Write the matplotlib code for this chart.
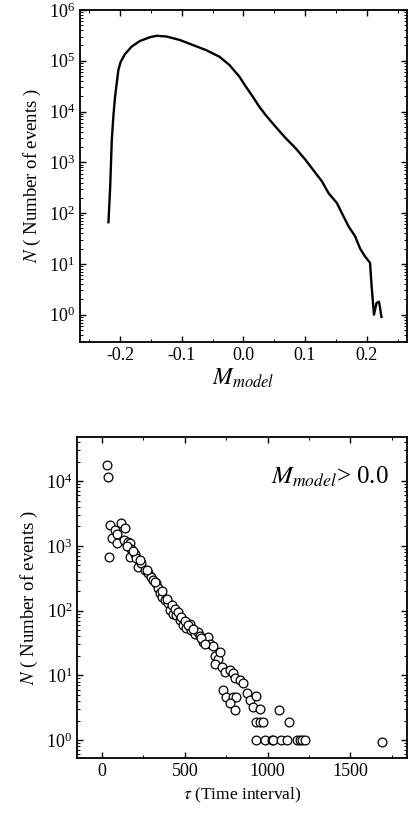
import matplotlib.pyplot as plt
import numpy as np

plt.rcParams['font.family'] = ['Liberation Serif', 'DejaVu Serif']
plt.rcParams['mathtext.fontset'] = 'stix'

# top panel: distribution of M_model
m_model = [-0.2188, -0.216, -0.2134, -0.2107, -0.208, -0.2054, -0.2027, -0.199,
           -0.192, -0.1812, -0.1678, -0.1517, -0.1409, -0.1248, -0.1034, -0.0819,
           -0.0604, -0.0389, -0.0228, -0.0067, 0.004, 0.0148, 0.0255, 0.0362,
           0.0523, 0.0685, 0.0846, 0.1007, 0.1168, 0.1275, 0.1383, 0.1517,
           0.1597, 0.1705, 0.1812, 0.1893, 0.1973, 0.2054, 0.208, 0.2118,
           0.216, 0.22, 0.224]
n_model = [66, 330, 2750, 8500, 20000, 36000, 66000, 95000,
           135000, 190000, 245000, 290000, 310000, 300000, 257000, 204000,
           162000, 120000, 83000, 49000, 31000, 20000, 12600, 8500,
           5000, 3000, 1900, 1120, 620, 420, 245, 158,
           100, 55, 35, 20, 14, 10.5, 3.6, 1.0,
           1.7, 1.8, 0.9]

# bottom panel: waiting times for M_model > 0.0
tau = [30, 36, 42, 50, 60, 77, 91, 91, 117, 137, 131, 157, 167, 177, 167, 198,
       208, 218, 238, 258, 278, 298, 308, 329, 339, 349, 365, 379, 399, 409,
       429, 450, 470, 490, 510, 530, 540, 560, 581, 591, 611, 641, 651, 671,
       681, 702, 712, 681, 722, 742, 772, 792, 802, 833, 853, 732, 752, 792,
       812, 772, 873, 893, 930, 913, 954, 933, 954, 974, 802,
       933, 984, 1024, 1034, 1084, 1115, 1175, 1196, 1206, 1226,
       1070, 1131, 1689,
       150, 185, 230, 270, 320, 360, 390, 420, 440, 460, 480, 500, 520, 550, 600, 620]
n_tau = [18000, 11700, 680, 2100, 1300, 1750, 1500, 1100, 2230, 1900, 1230, 1150, 1090, 910, 680, 760,
         640, 480, 550, 425, 375, 335, 295, 263, 220, 190, 163, 145, 130, 102,
         90, 85, 71, 60, 53, 63, 50, 43, 47, 40, 33, 39, 31, 28,
         20, 18, 23, 15, 13.5, 11.4, 12, 10.7, 9, 8.4, 7.5, 5.9, 4.7, 4.7,
         4.7, 3.7, 5.3, 4.2, 4.8, 3.3, 3.0, 1.9, 1.9, 1.9, 2.9,
         1, 1, 1, 1, 1, 1, 1, 1, 1, 1,
         2.9, 1.9, 0.93,
         1000, 820, 600, 420, 280, 200, 150, 120, 105, 95, 80, 70, 60, 52, 38, 30]

fig = plt.figure(figsize=(4.08, 8.23), dpi=100)

ax1 = fig.add_axes([0.196, 0.5845, 0.801, 0.4034])
ax1.plot(m_model, n_model, color='black', lw=1.7)
ax1.set_yscale('log')
ax1.set_xlim(-0.265, 0.265)
ax1.set_ylim(0.29, 1e6)
ax1.set_xticks([-0.2, -0.1, 0.0, 0.1, 0.2])
ax1.set_xticklabels(['-0.2', '-0.1', '0.0', '0.1', '0.2'])
ax1.set_xlabel(r'$M_{model}$', fontsize=17, labelpad=2)
ax1.set_ylabel(r'$N$ ( Number of events )', fontsize=13.5)

ax2 = fig.add_axes([0.189, 0.079, 0.809, 0.390])
ax2.scatter(tau, n_tau, s=40, facecolors='white', edgecolors='black', linewidths=0.9, zorder=3)
ax2.set_yscale('log')
ax2.set_xlim(-150, 1843)
ax2.set_ylim(0.53, 4.8e4)
ax2.set_xticks([0, 500, 1000, 1500])
ax2.set_xlabel(r'$\tau$ (Time interval)', fontsize=12.5, labelpad=4)
ax2.set_ylabel(r'$N$ ( Number of events )', fontsize=13.5)
ax2.text(0.945, 0.875, r'$M_{model}$> 0.0', transform=ax2.transAxes,
         ha='right', va='center', fontsize=18)

for ax in (ax1, ax2):
    ax.tick_params(which='both', direction='in', top=True, right=True, labelsize=13)
    ax.tick_params(which='major', length=4, width=1)
    ax.tick_params(which='minor', length=2, width=0.7)
    for sp in ax.spines.values():
        sp.set_linewidth(1.3)
ax1.xaxis.set_minor_locator(plt.MultipleLocator(0.05))
ax2.xaxis.set_minor_locator(plt.MultipleLocator(250))

fig.savefig('out.png', dpi=100)
